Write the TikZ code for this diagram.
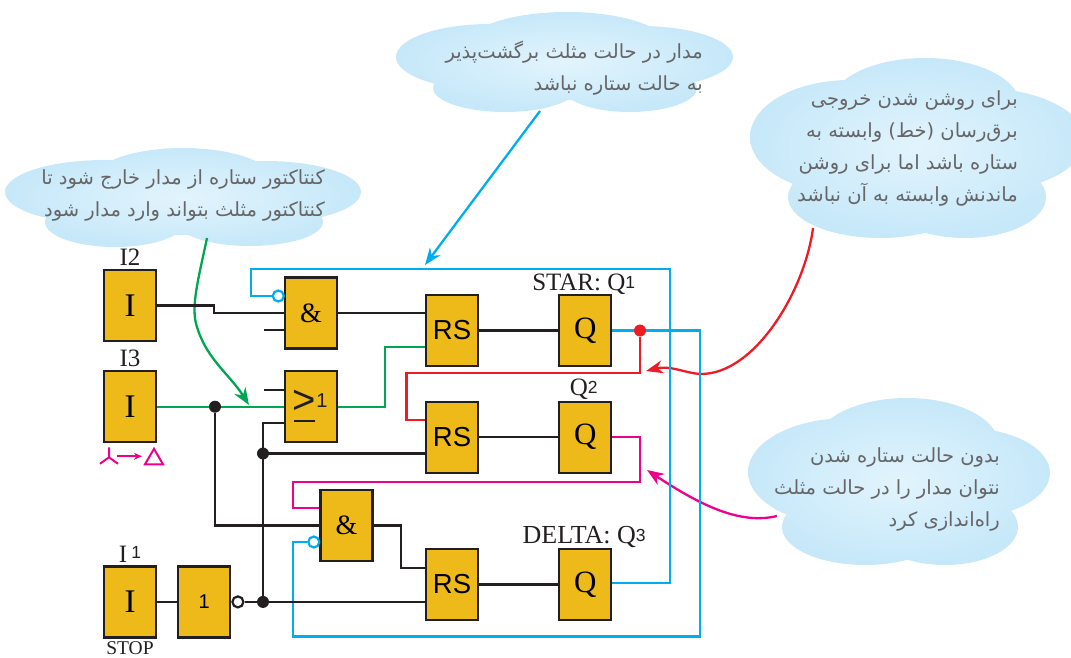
\documentclass[tikz,border=0pt]{standalone}
\usepackage{fontspec}
\setmainfont{Liberation Serif}
\setsansfont{Liberation Sans}
\newfontfamily\farsi[Script=Arabic]{DejaVu Sans}
\TeXXeTstate=1
\usetikzlibrary{calc}
\usetikzlibrary{positioning}
\usetikzlibrary{arrows.meta}
\definecolor{wireblack}{HTML}{231F20}
\definecolor{wireblue}{HTML}{00AEEF}
\definecolor{wiregreen}{HTML}{00A651}
\definecolor{wirered}{HTML}{ED1C24}
\definecolor{wirepink}{HTML}{EC008C}
\definecolor{boxfill}{HTML}{EDBA1A}
\definecolor{cloudin}{HTML}{E2F4FD}
\definecolor{cloudout}{HTML}{C6E8F9}
\definecolor{notetext}{HTML}{666567}
\newcommand{\fa}[1]{\beginR #1\endR}
\newcommand{\supnum}[1]{\raisebox{2pt}{\sffamily\fontsize{17.5}{17.5}\selectfont #1}}
\tikzset{
  logicbox/.style={draw=wireblack, line width=2.2pt, fill=boxfill, minimum width=52pt, minimum height=71pt, inner sep=0pt},
  ibox/.style={logicbox, font=\fontsize{33}{33}\selectfont},
  qbox/.style={logicbox, font=\fontsize{31}{31}\selectfont},
  rsbox/.style={logicbox, font=\sffamily\fontsize{27.5}{28}\selectfont},
  andbox/.style={logicbox, font=\fontsize{28}{28}\selectfont},
  wire/.style={line width=2.3pt, wireblack},
  dot/.style={circle, fill=#1, inner sep=0pt, minimum size=12pt},
  bubble/.style={circle, draw=#1, fill=white, line width=2.2pt, inner sep=0pt, minimum size=11pt},
  lab/.style={text=wireblack, inner sep=0pt, font=\fontsize{25}{25}\selectfont},
  note/.style={text=notetext, inner sep=0pt, align=right, anchor=east, font=\farsi\fontsize{19.5}{32}\selectfont},
  cloud/.style={inner color=cloudin, outer color=cloudout},
  pointer/.style={line width=2.3pt, -{Stealth[length=17pt, width=13pt]}},
}
\begin{document}
\begin{tikzpicture}[x=1pt, y=-1pt]
  \path[clip, use as bounding box] (0,0) rectangle (1071,658);

  % clouds
  \shade[cloud] (490,57) ellipse (94 and 33) (567,45) ellipse (100 and 33) (640,57) ellipse (93 and 31)
    (505,88) ellipse (72 and 24) (630,88) ellipse (67 and 24) (567,70) ellipse (120 and 30);
  \shade[cloud] (850,137) ellipse (100 and 57) (925,105) ellipse (95 and 47) (980,140) ellipse (105 and 52)
    (880,197) ellipse (92 and 41) (965,197) ellipse (81 and 41);
  \shade[cloud] (105,192) ellipse (100 and 32) (183,180) ellipse (90 and 32) (265,192) ellipse (96 and 31)
    (115,222) ellipse (70 and 25) (250,222) ellipse (73 and 24) (183,210) ellipse (100 and 25);
  \shade[cloud] (848,472) ellipse (100 and 54) (907,445) ellipse (92 and 47) (965,473) ellipse (85 and 45)
    (865,527) ellipse (83 and 38) (945,527) ellipse (73 and 38);

  \node [note] (note1) at (703,68) {\fa{مدار در حالت مثلث برگشت‌پذیر}\\\fa{به حالت ستاره نباشد}};
  \node [note] (note2) at (1018,148.5) {\fa{برای روشن شدن خروجی}\\\fa{برق‌رسان (خط) وابسته به}\\\fa{ستاره باشد اما برای روشن}\\\fa{ماندنش وابسته به آن نباشد}};
  \node [note] (note3) at (325,195.5) {\fa{کنتاکتور ستاره از مدار خارج شود تا}\\\fa{کنتاکتور مثلث بتواند وارد مدار شود}};
  \node [note] (note4) at (1000,489) {\fa{بدون حالت ستاره شدن}\\\fa{نتوان مدار را در حالت مثلث}\\\fa{راه‌اندازی کرد}};

  % blocks
  \node [ibox] (i2) at (130,305.5) {I};
  \node [ibox, below=28pt of i2] (i3) {I};
  \node [ibox, below=122pt of i3] (i1) {I};
  \node [logicbox, right=20pt of i1, font=\sffamily\fontsize{20}{20}\selectfont] (not1) {1};
  \node [andbox] (and1) at (311,313) {\&};
  \node [logicbox, below=20.5pt of and1] (or1) {};
  \node [andbox] (and2) at (346.5,525.5) {\&};
  \node [rsbox] (rs1) at (452,330.5) {RS};
  \node [rsbox, below=33.5pt of rs1] (rs2) {RS};
  \node [rsbox, below=74pt of rs2] (rs3) {RS};
  \node [qbox, right=79pt of rs1] (q1) {Q};
  \node [qbox, right=79pt of rs2] (q2) {Q};
  \node [qbox, right=79pt of rs3] (q3) {Q};

  \node [inner sep=0pt, font=\sffamily\fontsize{40}{40}\selectfont, text=wireblack] (ge) at (304,402) {>};
  \coordinate (geleft) at ($(ge)+(-10.5,19)$);
  \coordinate (geright) at ($(ge)+(10.5,19)$);
  \draw[wire] (geleft) -- (geright);
  \node [inner sep=0pt, font=\sffamily\fontsize{20}{20}\selectfont, text=wireblack] (geone) at (322,401) {1};

  \node [bubble=wireblack, right=0pt of not1] (n1) {};
  \node [bubble=wireblue, anchor=east] (n2) at ($(and1.west)+(1,-17)$) {};
  \node [bubble=wireblue, anchor=east] (n3) at ($(and2.west)+(1,16.5)$) {};

  % pointers from the clouds
  \coordinate (c1) at (540,111);
  \coordinate (t1) at (425,265);
  \draw[pointer, wireblue] (c1) -- (t1);
  \coordinate (c2) at (813,228);
  \coordinate (t2) at (646,371);
  \draw[pointer, wirered] (c2) .. controls (805,290) and (755,375) .. (700,374) .. controls (685,373) and (670,365) .. (t2);
  \coordinate (c3) at (207,238);
  \coordinate (t3) at (249,405);
  \draw[pointer, wiregreen] (c3) .. controls (197,285) and (190,310) .. (198,330) .. controls (208,360) and (230,375) .. (t3);
  \coordinate (c4) at (777,516);
  \coordinate (t4) at (647,470);
  \draw[pointer, wirepink] (c4) .. controls (740,525) and (700,505) .. (t4);

  % coloured wires
  \draw[wire, wireblue] (n2) -- ++(-27,0) |- (670,269) |- (q3.east |- 0,583);
  \draw[wire, wireblue] (q1.east) -- (q1.east -| 700,0) |- (293,636.5) |- (n3);
  \draw[wire, wiregreen] (i3.east) -- (i3.east -| or1.west);
  \draw[wire, wiregreen] (or1.east) -- (or1.east -| 385,0) |- (rs1.west |- 0,347);
  \node [dot=wirered] (d1) at (q1.east -| 640,0) {};
  \draw[wire, wirered] (d1) |- (406.5,373) |- (rs2.west |- 0,420);
  \draw[wire, wirepink] (q2.east) -- (q2.east -| 640,0) |- (293,482) |- (and2.west |- 0,508);

  % black wires
  \coordinate (j1) at (i2.east -| 214,0);
  \draw[wire] (i2.east) -- (j1) -- (j1 |- and1.west) -- (and1.west);
  \draw[wire] (and1.east) -- (and1.east -| rs1.west);
  \coordinate (s1) at (264,330);
  \draw[wire] (s1) -- (s1 -| and1.west);
  \coordinate (s2) at (264,390);
  \draw[wire] (s2) -- (s2 -| or1.west);
  \draw[wire] (rs1) -- (q1);
  \draw[wire] (rs2) -- (q2);
  \draw[wire] (rs3) -- (q3);
  \draw[wire] (i1) -- (not1);
  \node [dot=wireblack] (d2) at (i3.east -| 215,0) {};
  \node [dot=wireblack] (d3) at (n1 -| 263,0) {};
  \node [dot=wireblack] (d4) at (263,453.5) {};
  \draw[wire] (d2) |- (and2.west);
  \draw[wire] (n1) -- (d3) -- (rs3.west |- d3);
  \draw[wire] (d3) |- (or1.west |- 0,423);
  \draw[wire] (d4) -- (rs2.west |- d4);
  \draw[wire] (and2.east) -- (and2.east -| 401,0) |- (rs3.west |- 0,568);

  % labels
  \node [lab, above=3pt of i2] (li2) {I2};
  \node [lab, above=3pt of i3] (li3) {I3};
  \node [lab, above=3pt of i1] (li1) {I\,\raisebox{2pt}{\supnum{1}}};
  \node [lab, font=\fontsize{19.5}{19.5}\selectfont, anchor=base] (stop) at ($(i1.south)+(0,15.5)$) {STOP};
  \node [lab, anchor=base] (lq1) at ($(q1.north)+(-1.5,-3.5)$) {STAR: Q\supnum{1}};
  \node [lab, anchor=base] (lq2) at ($(q2.north)+(-1.5,-5)$) {Q\supnum{2}};
  \node [lab, anchor=base, font=\fontsize{26}{26}\selectfont] (lq3) at ($(q3.north)+(-1,-4)$) {DELTA: Q\supnum{3}};

  % star to delta mark under I3
  \coordinate (y0) at ($(i3.south)+(-21,14)$);
  \draw[wirepink, line width=2pt] (y0) -- ++(0,-10) (y0) -- ++(-9,6.5) (y0) -- ++(9,6.5);
  \coordinate (m0) at ($(y0)+(8,-1)$);
  \draw[wirepink, line width=2pt, -{Stealth[length=8pt, width=7pt]}] (m0) -- ++(25,0);
  \coordinate (tr) at ($(y0)+(45,-8.5)$);
  \draw[wirepink, line width=2pt] (tr) -- ++(9,15.5) -- ++(-18,0) -- cycle;
\end{tikzpicture}
\end{document}
